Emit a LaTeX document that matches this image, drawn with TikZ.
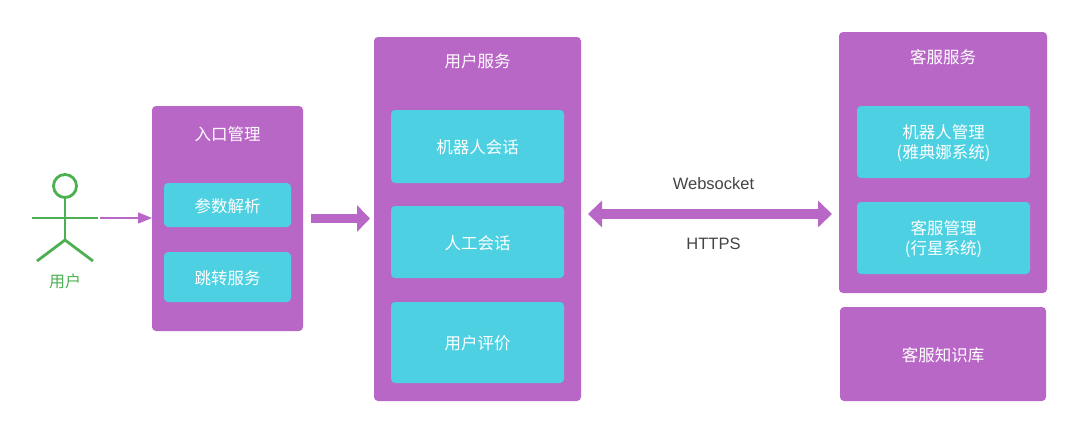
\documentclass[tikz,border=0pt]{standalone}
\usepackage{fontspec}
\setmainfont{Liberation Sans}
\newfontfamily\cjk{Noto Sans CJK SC}
\usetikzlibrary{arrows.meta}
\definecolor{boxpurple}{HTML}{B967C7}
\definecolor{boxcyan}{HTML}{4DD0E1}
\definecolor{actorgreen}{HTML}{4CAF50}
\definecolor{labelgray}{HTML}{444444}
\newcommand{\lowtext}[2][3.2pt]{\raisebox{-#1}[\height][\depth]{\begin{tabular}{@{}c@{}}#2\end{tabular}}}
\tikzset{
  x=1pt,y=-1pt,
  panel/.style={fill=boxpurple,rounded corners=4pt,inner sep=0pt,outer sep=0pt,text=white,font=\cjk\fontsize{16.5}{20}\selectfont,align=center},
  item/.style={fill=boxcyan,rounded corners=4pt,inner sep=0pt,outer sep=0pt,text=white,font=\cjk\fontsize{16.5}{20}\selectfont,align=center},
  paneltitle/.style={inner sep=0pt,text=white,font=\cjk\fontsize{16.5}{20}\selectfont},
  actorline/.style={draw=actorgreen,line width=2.8pt},
  netlabel/.style={inner sep=0pt,text=labelgray,font=\fontsize{16.5}{20}\selectfont},
  thickarrow/.style={draw=boxpurple,line width=9.5pt,-{Triangle[width=26pt,length=13pt]}},
  dblarrow/.style={draw=boxpurple,line width=9.5pt,{Triangle[width=26pt,length=14pt]}-{Triangle[width=26pt,length=14pt]}},
  thinarrow/.style={draw=boxpurple,line width=1.2pt,-{Triangle[width=11pt,length=14pt]}}
}
\begin{document}
\begin{tikzpicture}
\useasboundingbox (0,0) rectangle (1080,432);
% panels
\node[panel,minimum width=151pt,minimum height=225pt] (entry) at (227.5,218.5) {};
\node[panel,minimum width=207pt,minimum height=364pt] (usersvc) at (477.5,219) {};
\node[panel,minimum width=208pt,minimum height=261pt] (agentsvc) at (943,162.5) {};
\node[panel,minimum width=206pt,minimum height=94pt] (kb) at (943,354) {\lowtext{客服知识库}};
% titles
\node[paneltitle] (t1) at (227.5,134) {入口管理};
\node[paneltitle] (t2) at (477.5,61) {用户服务};
\node[paneltitle] (t3) at (943,57) {客服服务};
% items
\node[item,minimum width=127pt,minimum height=44pt] (parse) at (227.5,205) {\lowtext{参数解析}};
\node[item,minimum width=127pt,minimum height=50pt] (jump) at (227.5,277) {\lowtext[3.7pt]{跳转服务}};
\node[item,minimum width=173pt,minimum height=73pt] (bot) at (477.5,146.5) {\lowtext{机器人会话}};
\node[item,minimum width=173pt,minimum height=72pt] (human) at (477.5,242) {\lowtext{人工会话}};
\node[item,minimum width=173pt,minimum height=81pt] (rate) at (477.5,342.5) {\lowtext{用户评价}};
\node[item,minimum width=173pt,minimum height=72pt] (botm) at (943.5,142) {\lowtext[2.2pt]{机器人管理\\(雅典娜系统)}};
\node[item,minimum width=173pt,minimum height=72pt] (agentm) at (943.5,238) {\lowtext[2.2pt]{客服管理\\(行星系统)}};
% actor
\node[circle,actorline,fill=white,minimum size=23pt,inner sep=0pt,outer sep=0pt] (head) at (65,186) {};
\coordinate (armL) at (32,218);
\coordinate (armR) at (98,218);
\coordinate (hip) at (65,240);
\coordinate (footL) at (37,261);
\coordinate (footR) at (93,261);
\draw[actorline] (head.south) -- (hip);
\draw[actorline] (armL) -- (armR);
\draw[actorline] (footL) -- (hip) -- (footR);
\node[inner sep=0pt,text=actorgreen,font=\cjk\fontsize{16}{20}\selectfont] (actorlabel) at (65,281) {用户};
% connectors
\draw[thinarrow,shorten <=2pt] (armR) -- (armR -| entry.west);
\draw[thickarrow,shorten <=8pt,shorten >=4pt] (entry.east) -- (usersvc.west |- entry.east);
\coordinate (dl) at (588,214);
\coordinate (dr) at (832,214);
\draw[dblarrow] (dl) -- (dr);
\node[netlabel] (ws) at (713.5,184) {Websocket};
\node[netlabel] (https) at (713.5,244) {HTTPS};
\end{tikzpicture}
\end{document}
